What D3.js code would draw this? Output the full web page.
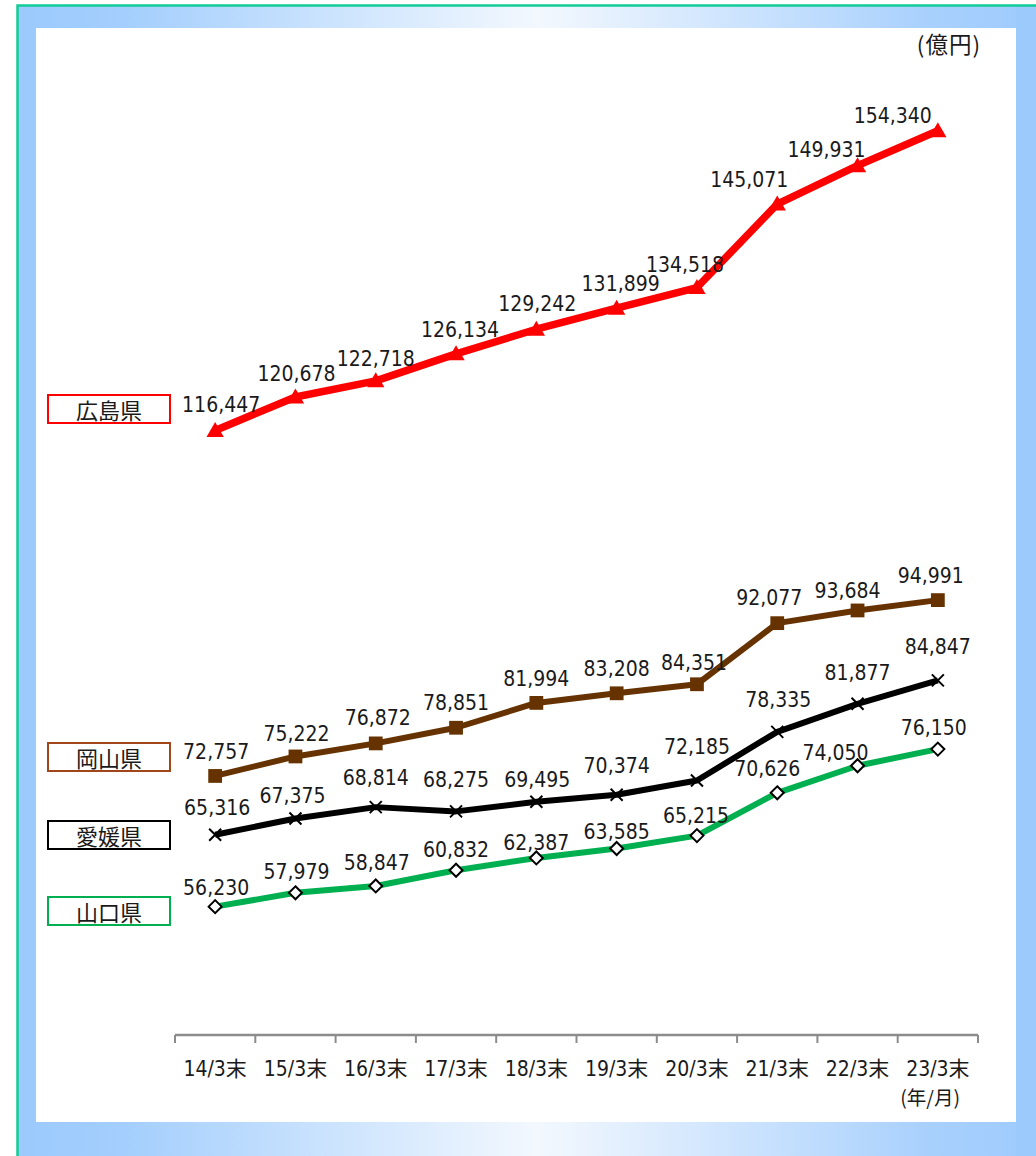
<!DOCTYPE html>
<html>
<head>
<meta charset="utf-8">
<script src="https://cdn.jsdelivr.net/npm/d3@7"></script>
<style>
  html, body { margin: 0; padding: 0; background: #fff; }
  svg { display: block; }
  .num { font-family: "DejaVu Sans Condensed", "DejaVu Sans", "Noto Sans CJK JP", sans-serif; font-stretch: condensed; font-size: 21px; fill: #1a1a1a; }
  .jp { font-family: "Noto Sans CJK JP", sans-serif; fill: #1a1a1a; }
</style>
</head>
<body>
<div id="chart"></div>
<script>
var width = 1036;
var height = 1156;

// data
var categories = ["14/3末","15/3末","16/3末","17/3末","18/3末","19/3末","20/3末","21/3末","22/3末","23/3末"];
var prefectures = ["広島県","岡山県","愛媛県","山口県"];
var hiroshima = [116447,120678,122718,126134,129242,131899,134518,145071,149931,154340];
var okayama   = [72757,75222,76872,78851,81994,83208,84351,92077,93684,94991];
var ehime     = [65316,67375,68814,68275,69495,70374,72185,78335,81877,84847];
var yamaguchi = [56230,57979,58847,60832,62387,63585,65215,70626,74050,76150];

// label nudges (dx, dy from the point)
var hiroshimaDx = [6,1,0,4,1,4,-12,-28,-31,-45];
var hiroshimaDy = [-25,-23,-22,-24,-25,-24,-23,-24,-16,-15];
var okayamaDx   = [1,1,2,0,0,0,-3,-8,-10,-7];
var okayamaDy   = [-24,-22,-25,-25,-24,-24,-21,-25,-19,-24];
var ehimeDx     = [2,-3,0,0,1,0,0,1,0,0];
var ehimeDy     = [-27,-23,-29,-31,-22,-29,-33,-32,-31,-33];
var yamaguchiDx = [1,1,1,0,0,0,-1,-10,-22,-4];
var yamaguchiDy = [-19,-21,-23,-20,-15,-16,-20,-24,-13,-21];

var series = [
  {name: prefectures[0], values: hiroshima, dx: hiroshimaDx, dy: hiroshimaDy, color: "#ff0000", lw: 7.5, marker: "tri", legendY: 409},
  {name: prefectures[1], values: okayama, dx: okayamaDx, dy: okayamaDy, color: "#663300", lw: 6, marker: "square", legendY: 757, box: "#a0461a"},
  {name: prefectures[2], values: ehime, dx: ehimeDx, dy: ehimeDy, color: "#000000", lw: 6, marker: "x", legendY: 835},
  {name: prefectures[3], values: yamaguchi, dx: yamaguchiDx, dy: yamaguchiDy, color: "#00b050", lw: 6, marker: "diamond", legendY: 911}
];

var svg = d3.select("#chart").append("svg")
    .attr("width", width)
    .attr("height", height);

// frame
var defs = svg.append("defs");
var grad = defs.append("linearGradient").attr("id", "band")
    .attr("x1", "0").attr("x2", "1").attr("y1", "0").attr("y2", "0");
grad.selectAll("stop")
    .data([[0, "#9ccafd"], [0.1, "#a3cefd"], [0.5, "#f3f8fe"], [0.88, "#a8d0fd"], [1, "#9ccafd"]])
    .enter().append("stop")
    .attr("offset", function(d) {return d[0]})
    .attr("stop-color", function(d) {return d[1]});

svg.append("rect").attr("x", 17).attr("y", 5).attr("width", 1040).attr("height", 1170).attr("fill", "url(#band)");
svg.append("rect").attr("x", 17).attr("y", 5).attr("width", 19).attr("height", 1170).attr("fill", "#9ccafd");
svg.append("rect").attr("x", 1016).attr("y", 5).attr("width", 30).attr("height", 1170).attr("fill", "#9ccafd");
svg.append("rect").attr("x", 17.5).attr("y", 5.5).attr("width", 1040).attr("height", 1170)
    .attr("fill", "none").attr("stroke", "#12cc98").attr("stroke-width", 2.5);
svg.append("rect").attr("x", 36).attr("y", 28).attr("width", 980).attr("height", 1094).attr("fill", "#fff");

// scales
var x = d3.scaleBand().domain(categories).range([175, 978]).paddingInner(0).paddingOuter(0);
var y = d3.scaleLinear().domain([40000, 160000]).range([1035, 86]);
var cx = function(i) {return x(categories[i]) + x.bandwidth() / 2};

// x axis
var xAxis = d3.axisBottom(x).tickSize(0).tickPadding(26);
var ax = svg.append("g").attr("transform", "translate(0,1035)").call(xAxis);
ax.select(".domain").attr("stroke", "#8c8c8c").attr("stroke-width", 2.5).attr("d", "M175,0H978");
ax.attr("font-family", null).attr("font-size", null);
ax.selectAll(".tick text").attr("class", "num").style("font-size", "21px").attr("fill", "#1a1a1a");
ax.selectAll(".edge")
    .data(d3.range(categories.length + 1))
    .enter().append("line")
    .attr("x1", function(i) {return 175 + i * x.bandwidth()})
    .attr("x2", function(i) {return 175 + i * x.bandwidth()})
    .attr("y1", 0).attr("y2", 8)
    .attr("stroke", "#8c8c8c").attr("stroke-width", 2);

svg.append("text").attr("class", "jp").attr("x", 981).attr("y", 53)
    .attr("text-anchor", "end").style("font-size", "22.5px").style("letter-spacing", "1px").text("(億円)");
svg.append("text").attr("class", "jp").attr("x", 960).attr("y", 1105)
    .attr("text-anchor", "end").style("font-size", "19.5px").text("(年/月)");

// lines
var line = d3.line().x(function(d, i) {return cx(i)}).y(function(d) {return y(d)});

var markerPath = {
  tri: d3.symbol().type(d3.symbolTriangle).size(130)(),
  square: d3.symbol().type(d3.symbolSquare).size(190)(),
  x: "M-6,-6L6,6M6,-6L-6,6",
  diamond: "M0,-6.5L6.5,0L0,6.5L-6.5,0Z"
};

series.forEach(function(s) {
  var g = svg.append("g");
  g.append("path").datum(s.values)
      .attr("d", line)
      .attr("fill", "none")
      .attr("stroke", s.color)
      .attr("stroke-width", s.lw)
      .attr("stroke-linejoin", "round");

  var pts = g.selectAll(".pt").data(s.values).enter().append("path")
      .attr("transform", function(d, i) {
        var yy = y(d) + (s.marker == "tri" ? 1.5 : 0);
        return "translate(" + cx(i) + "," + yy + ")";
      })
      .attr("d", markerPath[s.marker]);
  if (s.marker == "x") {
    pts.attr("fill", "none").attr("stroke", "#000").attr("stroke-width", 2);
  } else if (s.marker == "diamond") {
    pts.attr("fill", "#fff").attr("stroke", "#000").attr("stroke-width", 2);
  } else {
    pts.attr("fill", s.color);
  }

  g.selectAll(".lbl").data(s.values).enter().append("text")
      .attr("class", "num")
      .attr("text-anchor", "middle")
      .attr("dominant-baseline", "central")
      .attr("x", function(d, i) {return cx(i) + s.dx[i]})
      .attr("y", function(d, i) {return y(d) + s.dy[i]})
      .text(function(d) {return d3.format(",")(d)});

  // legend box
  var lg = svg.append("g").attr("transform", "translate(48," + (s.legendY - 14) + ")");
  lg.append("rect").attr("width", 122).attr("height", 28)
      .attr("fill", "#fff").attr("stroke", s.box || s.color).attr("stroke-width", 2);
  lg.append("text").attr("class", "jp").attr("x", 61).attr("y", 14)
      .attr("text-anchor", "middle").attr("dominant-baseline", "central")
      .style("font-size", "22px").text(s.name);
});
</script>
</body>
</html>
